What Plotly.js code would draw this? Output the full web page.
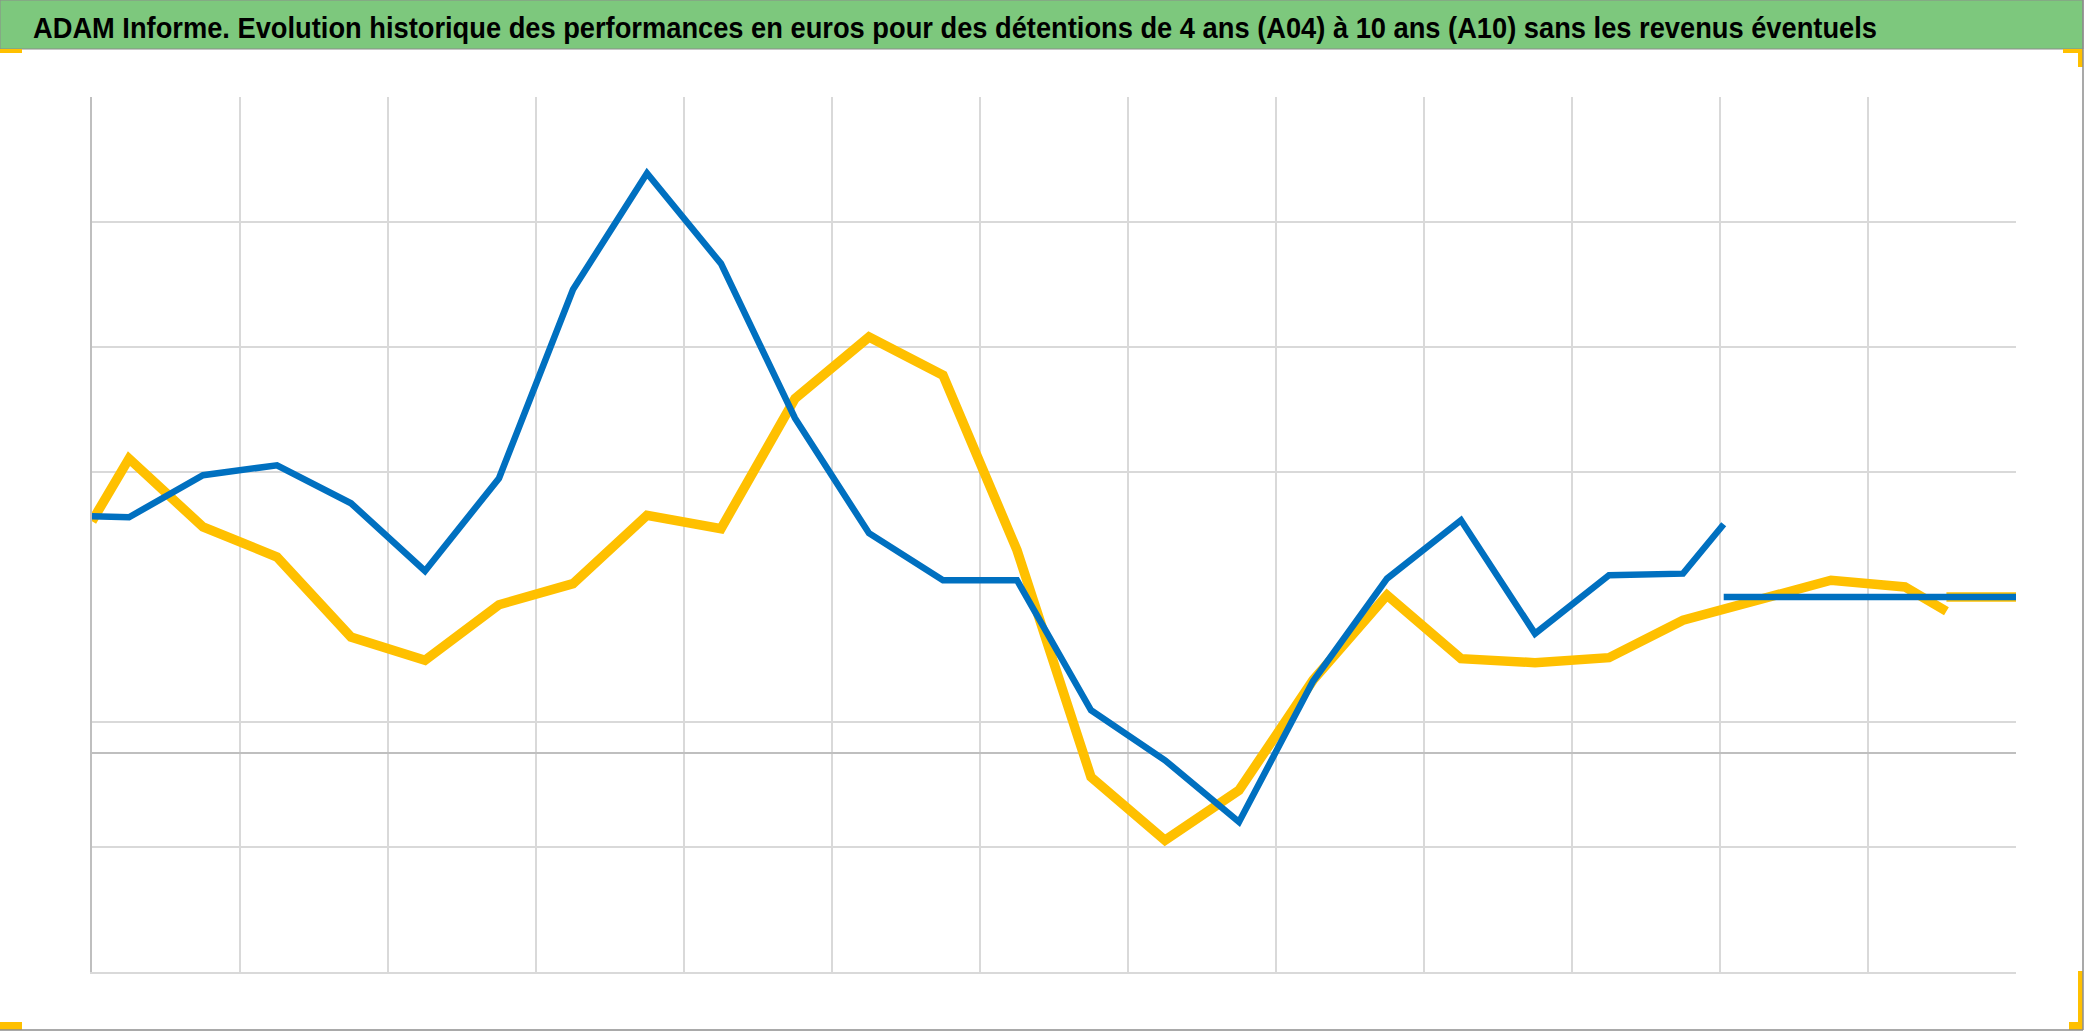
<!DOCTYPE html>
<html><head><meta charset="utf-8">
<script src="https://cdn.plot.ly/plotly-3.0.1.min.js"></script>
<style>html,body{margin:0;padding:0;background:#fff;overflow:hidden}#chart{width:2086px;height:1031px}</style>
</head><body><div id="chart"></div>
<script>
const titleText = "ADAM Informe. Evolution historique des performances en euros pour des détentions de 4 ans (A04) à 10 ans (A10) sans les revenus éventuels";

// Blue series (ends earlier)
const xBlue = [0, 0.5, 1.5, 2.5, 3.5, 4.5, 5.5, 6.5, 7.5, 8.5, 9.5, 10.5, 11.5, 12.5, 13.5, 14.5, 15.5, 16.5, 17.5, 18.5, 19.5, 20.5, 21.5, 22.05];
const yBlue = [6.46, 6.38, 9.74, 10.54, 7.5, 2.08, 9.5, 24.6, 33.9, 26.67, 14.3, 5.1, 1.34, 1.34, -9.06, -13.06, -18.0, -6.74, 1.47, 6.14, -2.93, 1.74, 1.87, 5.82];
// Yellow series
const xYellow = [0, 0.5, 1.5, 2.5, 3.5, 4.5, 5.5, 6.5, 7.5, 8.5, 9.5, 10.5, 11.5, 12.5, 13.5, 14.5, 15.5, 16.5, 17.5, 18.5, 19.5, 20.5, 21.5, 22.5, 23.5, 24.5, 25.06];
const yYellow = [6.06, 11.07, 5.6, 3.2, -3.2, -5.06, -0.62, 1.07, 6.54, 5.47, 15.87, 20.8, 17.74, 3.74, -14.4, -19.46, -15.46, -6.66, 0.14, -4.93, -5.25, -4.85, -1.86, -0.2, 1.34, 0.8, -1.14];
// Blank periods plotted at zero
const xBlueZero = [22.05, 26];
const yBlueZero = [0, 0];
const xYellowZero = [25.06, 26];
const yYellowZero = [0, 0];

const yGridVals = [-30, -20, -10, 10, 20, 30, 40];
const xGridVals = [2, 4, 6, 8, 10, 12, 14, 16, 18, 20, 22, 24];

const BLUE = '#0070C0', YELLOW = '#FFC000';

// pixel -> paper helpers for decorative frame
const L = 92, T = 97, PW = 1924, PH = 875;
const px = X => (X - L) / PW;
const py = Y => (T + PH - Y) / PH;
function rect(x0, y0, x1, y1, fill, line) {
  return {type: 'rect', xref: 'paper', yref: 'paper', x0: px(x0), x1: px(x1), y0: py(y0), y1: py(y1),
    fillcolor: fill, line: line || {width: 0}, layer: 'below'};
}
function hline(x0, x1, y, c, w) {
  return {type: 'line', xref: 'paper', yref: 'paper', x0: px(x0), x1: px(x1), y0: py(y), y1: py(y), line: {color: c, width: w}};
}
function vline(x, y0, y1, c, w) {
  return {type: 'line', xref: 'paper', yref: 'paper', x0: px(x), x1: px(x), y0: py(y0), y1: py(y1), line: {color: c, width: w}};
}

const TFONT = "'Liberation Sans', Arial, sans-serif";
const TITLE_W = 1844;

const traces = [
  {x: xYellowZero, y: yYellowZero, mode: 'lines', line: {color: YELLOW, width: 9.5}, hoverinfo: 'skip', showlegend: false},
  {x: xYellow, y: yYellow, name: 'A04', mode: 'lines', line: {color: YELLOW, width: 9.5}, showlegend: false},
  {x: xBlueZero, y: yBlueZero, mode: 'lines', line: {color: BLUE, width: 6.5}, hoverinfo: 'skip', showlegend: false},
  {x: xBlue, y: yBlue, name: 'A10', mode: 'lines', line: {color: BLUE, width: 6.5}, showlegend: false},
  {x: [], y: [], yaxis: 'y2', mode: 'lines', hoverinfo: 'skip', showlegend: false}
];

const layout = {
  width: 2086, height: 1031,
  margin: {l: L, r: 2086 - L - PW, t: T, b: 1031 - T - PH, pad: 0},
  paper_bgcolor: '#ffffff', plot_bgcolor: '#ffffff',
  showlegend: false,
  title: {text: titleText, xref: 'container', yref: 'container', x: 33 / 2086, xanchor: 'left',
    y: 1 - 27 / 1031, yanchor: 'middle',
    font: {family: TFONT, size: 30, color: '#000000', weight: 700}},
  xaxis: {range: [0, 26], tickvals: xGridVals, showticklabels: false, ticks: '',
    showgrid: true, gridcolor: '#d9d9d9', gridwidth: 1.5, zeroline: false,
    showline: true, linecolor: '#d9d9d9', linewidth: 2, fixedrange: true},
  yaxis: {range: [-30, 40], tickvals: yGridVals, showticklabels: false, ticks: '',
    showgrid: true, gridcolor: '#d9d9d9', gridwidth: 1.5, zeroline: false,
    showline: true, linecolor: '#bfbfbf', linewidth: 2, fixedrange: true},
  yaxis2: {overlaying: 'y', side: 'right', range: [-17.52, 52.48], showgrid: false, showline: false,
    showticklabels: false, ticks: '', zeroline: true, zerolinecolor: '#bfbfbf', zerolinewidth: 2, fixedrange: true},
  shapes: [
    rect(0, 0, 2083, 49, '#7dc87d', {color: '#8c8c8c', width: 1}),
    vline(2083, 0, 1030, '#8c8c8c', 1.5),
    hline(0, 2083, 1030, '#8c8c8c', 1.5),
    rect(0, 49, 22, 53, YELLOW),
    rect(2063, 49, 2083, 53, YELLOW),
    rect(2078, 49, 2083, 67, YELLOW),
    rect(0, 1022, 22, 1030, YELLOW),
    rect(2069, 1022, 2083, 1030, YELLOW),
    rect(2078, 971, 2083, 1030, YELLOW)
  ]
};

Plotly.newPlot('chart', traces, layout, {displayModeBar: false, staticPlot: true}).then(() => {
  // condense the title to the reference's narrow width
  document.querySelectorAll('#chart .gtitle').forEach(t => {
    t.setAttribute('textLength', TITLE_W);
    t.setAttribute('lengthAdjust', 'spacingAndGlyphs');
  });
});
</script>
</body></html>
